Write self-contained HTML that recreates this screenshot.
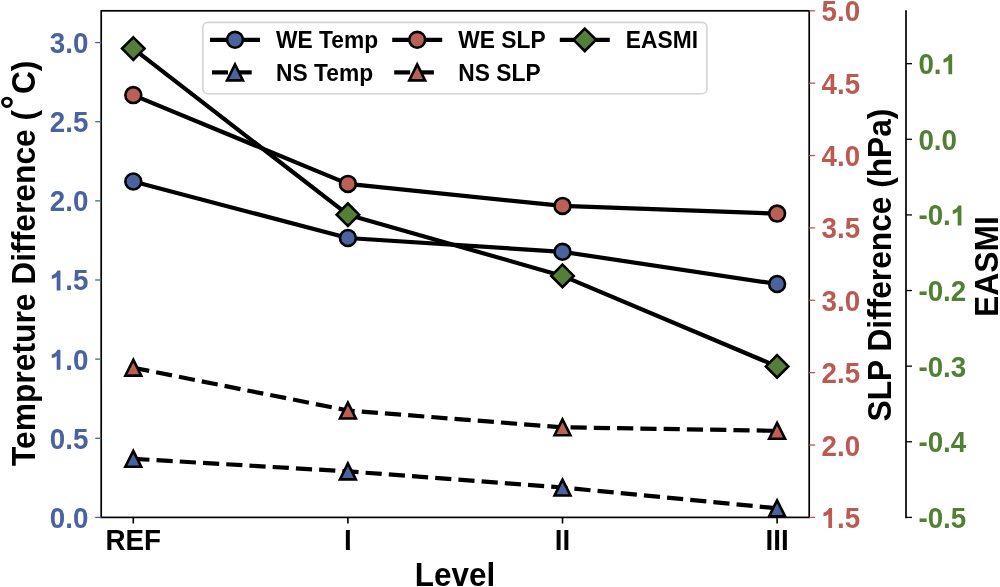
<!DOCTYPE html>
<html><head><meta charset="utf-8"><title>chart</title>
<style>
html,body{margin:0;padding:0;background:#fff;width:1000px;height:587px;overflow:hidden;}
svg{display:block;will-change:transform;}
text{font-family:"Liberation Sans", sans-serif;font-weight:bold;}
</style></head>
<body>
<svg width="1000" height="587" viewBox="0 0 1000 587">
<rect x="0" y="0" width="1000" height="587" fill="#fff"/>
<rect x="101.2" y="10.8" width="708.0" height="506.59999999999997" fill="none" stroke="#000" stroke-width="1.7"/>
<line x1="906.0" y1="10.200000000000001" x2="906.0" y2="518.25" stroke="#000" stroke-width="1.7"/>
<line x1="95.2" y1="517.40" x2="101.2" y2="517.40" stroke="#4a62a0" stroke-width="1.3"/>
<g transform="translate(88.50,527.90) scale(1.0,1.0405)" fill="#4a62a0"><text x="-38.65 -23.18 -15.46" y="0" font-size="27.8">0.0</text></g>
<line x1="95.2" y1="438.26" x2="101.2" y2="438.26" stroke="#4a62a0" stroke-width="1.3"/>
<g transform="translate(88.50,448.76) scale(1.0,1.0405)" fill="#4a62a0"><text x="-38.65 -23.18 -15.46" y="0" font-size="27.8">0.5</text></g>
<line x1="95.2" y1="359.13" x2="101.2" y2="359.13" stroke="#4a62a0" stroke-width="1.3"/>
<g transform="translate(88.50,369.63) scale(1.0,1.0405)" fill="#4a62a0"><path transform="translate(-38.65,0) scale(0.01357,-0.01305)" d="M 780 0 L 503 0 L 503 1010 Q 360 885 142 850 L 142 1110 Q 300 1150 420 1270 Q 520 1370 560 1466 L 780 1466 Z"/><text x="-23.18 -15.46" y="0" font-size="27.8">.0</text></g>
<line x1="95.2" y1="279.99" x2="101.2" y2="279.99" stroke="#4a62a0" stroke-width="1.3"/>
<g transform="translate(88.50,290.49) scale(1.0,1.0405)" fill="#4a62a0"><path transform="translate(-38.65,0) scale(0.01357,-0.01305)" d="M 780 0 L 503 0 L 503 1010 Q 360 885 142 850 L 142 1110 Q 300 1150 420 1270 Q 520 1370 560 1466 L 780 1466 Z"/><text x="-23.18 -15.46" y="0" font-size="27.8">.5</text></g>
<line x1="95.2" y1="200.86" x2="101.2" y2="200.86" stroke="#4a62a0" stroke-width="1.3"/>
<g transform="translate(88.50,211.36) scale(1.0,1.0405)" fill="#4a62a0"><text x="-38.65 -23.18 -15.46" y="0" font-size="27.8">2.0</text></g>
<line x1="95.2" y1="121.72" x2="101.2" y2="121.72" stroke="#4a62a0" stroke-width="1.3"/>
<g transform="translate(88.50,132.22) scale(1.0,1.0405)" fill="#4a62a0"><text x="-38.65 -23.18 -15.46" y="0" font-size="27.8">2.5</text></g>
<line x1="95.2" y1="42.59" x2="101.2" y2="42.59" stroke="#4a62a0" stroke-width="1.3"/>
<g transform="translate(88.50,53.09) scale(1.0,1.0405)" fill="#4a62a0"><text x="-38.65 -23.18 -15.46" y="0" font-size="27.8">3.0</text></g>
<line x1="809.2" y1="517.40" x2="815.2" y2="517.40" stroke="#bb5a52" stroke-width="1.3"/>
<g transform="translate(821.50,527.90) scale(1.0,1.0405)" fill="#bb5a52"><path transform="translate(0.00,0) scale(0.01357,-0.01305)" d="M 780 0 L 503 0 L 503 1010 Q 360 885 142 850 L 142 1110 Q 300 1150 420 1270 Q 520 1370 560 1466 L 780 1466 Z"/><text x="15.46 23.18" y="0" font-size="27.8">.5</text></g>
<line x1="809.2" y1="445.03" x2="815.2" y2="445.03" stroke="#bb5a52" stroke-width="1.3"/>
<g transform="translate(821.50,455.53) scale(1.0,1.0405)" fill="#bb5a52"><text x="0.00 15.46 23.18" y="0" font-size="27.8">2.0</text></g>
<line x1="809.2" y1="372.66" x2="815.2" y2="372.66" stroke="#bb5a52" stroke-width="1.3"/>
<g transform="translate(821.50,383.16) scale(1.0,1.0405)" fill="#bb5a52"><text x="0.00 15.46 23.18" y="0" font-size="27.8">2.5</text></g>
<line x1="809.2" y1="300.29" x2="815.2" y2="300.29" stroke="#bb5a52" stroke-width="1.3"/>
<g transform="translate(821.50,310.79) scale(1.0,1.0405)" fill="#bb5a52"><text x="0.00 15.46 23.18" y="0" font-size="27.8">3.0</text></g>
<line x1="809.2" y1="227.92" x2="815.2" y2="227.92" stroke="#bb5a52" stroke-width="1.3"/>
<g transform="translate(821.50,238.42) scale(1.0,1.0405)" fill="#bb5a52"><text x="0.00 15.46 23.18" y="0" font-size="27.8">3.5</text></g>
<line x1="809.2" y1="155.55" x2="815.2" y2="155.55" stroke="#bb5a52" stroke-width="1.3"/>
<g transform="translate(821.50,166.05) scale(1.0,1.0405)" fill="#bb5a52"><text x="0.00 15.46 23.18" y="0" font-size="27.8">4.0</text></g>
<line x1="809.2" y1="83.18" x2="815.2" y2="83.18" stroke="#bb5a52" stroke-width="1.3"/>
<g transform="translate(821.50,93.68) scale(1.0,1.0405)" fill="#bb5a52"><text x="0.00 15.46 23.18" y="0" font-size="27.8">4.5</text></g>
<line x1="809.2" y1="10.81" x2="815.2" y2="10.81" stroke="#bb5a52" stroke-width="1.3"/>
<g transform="translate(821.50,21.31) scale(1.0,1.0405)" fill="#bb5a52"><text x="0.00 15.46 23.18" y="0" font-size="27.8">5.0</text></g>
<line x1="906.0" y1="517.40" x2="912.0" y2="517.40" stroke="#000" stroke-width="1.3"/>
<g transform="translate(918.40,527.90) scale(1.0,1.0405)" fill="#517f33"><text x="0.00 9.26 24.72 32.44" y="0" font-size="27.8">-0.5</text></g>
<line x1="906.0" y1="441.78" x2="912.0" y2="441.78" stroke="#000" stroke-width="1.3"/>
<g transform="translate(918.40,452.28) scale(1.0,1.0405)" fill="#517f33"><text x="0.00 9.26 24.72 32.44" y="0" font-size="27.8">-0.4</text></g>
<line x1="906.0" y1="366.16" x2="912.0" y2="366.16" stroke="#000" stroke-width="1.3"/>
<g transform="translate(918.40,376.66) scale(1.0,1.0405)" fill="#517f33"><text x="0.00 9.26 24.72 32.44" y="0" font-size="27.8">-0.3</text></g>
<line x1="906.0" y1="290.54" x2="912.0" y2="290.54" stroke="#000" stroke-width="1.3"/>
<g transform="translate(918.40,301.04) scale(1.0,1.0405)" fill="#517f33"><text x="0.00 9.26 24.72 32.44" y="0" font-size="27.8">-0.2</text></g>
<line x1="906.0" y1="214.92" x2="912.0" y2="214.92" stroke="#000" stroke-width="1.3"/>
<g transform="translate(918.40,225.42) scale(1.0,1.0405)" fill="#517f33"><path transform="translate(32.44,0) scale(0.01357,-0.01305)" d="M 780 0 L 503 0 L 503 1010 Q 360 885 142 850 L 142 1110 Q 300 1150 420 1270 Q 520 1370 560 1466 L 780 1466 Z"/><text x="0.00 9.26 24.72" y="0" font-size="27.8">-0.</text></g>
<line x1="906.0" y1="139.30" x2="912.0" y2="139.30" stroke="#000" stroke-width="1.3"/>
<g transform="translate(918.40,149.80) scale(1.0,1.0405)" fill="#517f33"><text x="0.00 15.46 23.18" y="0" font-size="27.8">0.0</text></g>
<line x1="906.0" y1="63.68" x2="912.0" y2="63.68" stroke="#000" stroke-width="1.3"/>
<g transform="translate(918.40,74.18) scale(1.0,1.0405)" fill="#517f33"><path transform="translate(23.18,0) scale(0.01357,-0.01305)" d="M 780 0 L 503 0 L 503 1010 Q 360 885 142 850 L 142 1110 Q 300 1150 420 1270 Q 520 1370 560 1466 L 780 1466 Z"/><text x="0.00 15.46" y="0" font-size="27.8">0.</text></g>
<line x1="133.30" y1="517.4" x2="133.30" y2="523.5" stroke="#000" stroke-width="1.6"/>
<g transform="translate(133.30,550.00) scale(1.0,1.0405)"><text x="0" y="0" font-size="27.8" fill="#000" text-anchor="middle">REF</text></g>
<line x1="347.90" y1="517.4" x2="347.90" y2="523.5" stroke="#000" stroke-width="1.6"/>
<g transform="translate(347.90,550.00) scale(1.0,1.0405)"><text x="0" y="0" font-size="27.8" fill="#000" text-anchor="middle">I</text></g>
<line x1="562.50" y1="517.4" x2="562.50" y2="523.5" stroke="#000" stroke-width="1.6"/>
<g transform="translate(562.50,550.00) scale(1.0,1.0405)"><text x="0" y="0" font-size="27.8" fill="#000" text-anchor="middle">II</text></g>
<line x1="777.10" y1="517.4" x2="777.10" y2="523.5" stroke="#000" stroke-width="1.6"/>
<g transform="translate(777.10,550.00) scale(1.0,1.0405)"><text x="0" y="0" font-size="27.8" fill="#000" text-anchor="middle">III</text></g>
<g transform="translate(455.00,585.70) scale(1.0,1.03)"><text x="0" y="0" font-size="31.4" fill="#000" text-anchor="middle">Level</text></g>
<g transform="translate(35.30,466.10) rotate(-90) scale(1.0,1.02)"><text x="0" y="0" font-size="31.8" fill="#000" text-anchor="start">Tempreture Difference (</text></g>
<g transform="translate(35.30,94.10) rotate(-90) scale(1.0,1.02)"><text x="0" y="0" font-size="31.8" fill="#000" text-anchor="start">C)</text></g>
<ellipse cx="6.95" cy="102.3" rx="4.45" ry="4.15" fill="none" stroke="#000" stroke-width="2.9"/>
<g transform="translate(891.00,265.00) rotate(-90) scale(1.0,1.02)"><text x="0" y="0" font-size="31.7" fill="#000" text-anchor="middle">SLP Difference (hPa)</text></g>
<g transform="translate(998.40,266.60) rotate(-90) scale(1.0,1.02)"><text x="0" y="0" font-size="31.8" fill="#000" text-anchor="middle">EASMI</text></g>
<polyline points="133.30,181.50 347.90,238.00 562.50,251.80 777.10,284.00" fill="none" stroke="#000" stroke-width="4.2" stroke-linejoin="round" stroke-linecap="butt"/>
<circle cx="133.30" cy="181.50" r="7.95" fill="#4a629e" stroke="#000" stroke-width="2.6"/>
<circle cx="347.90" cy="238.00" r="7.95" fill="#4a629e" stroke="#000" stroke-width="2.6"/>
<circle cx="562.50" cy="251.80" r="7.95" fill="#4a629e" stroke="#000" stroke-width="2.6"/>
<circle cx="777.10" cy="284.00" r="7.95" fill="#4a629e" stroke="#000" stroke-width="2.6"/>
<polyline points="133.30,458.80 347.90,471.40 562.50,487.50 777.10,508.30" fill="none" stroke="#000" stroke-width="4.2" stroke-linejoin="round" stroke-linecap="butt" stroke-dasharray="16.2 7.07"/>
<polygon points="133.30,450.85 125.35,466.75 141.25,466.75" fill="#4a629e" stroke="#000" stroke-width="2.6" stroke-miterlimit="10"/>
<polygon points="347.90,463.45 339.95,479.35 355.85,479.35" fill="#4a629e" stroke="#000" stroke-width="2.6" stroke-miterlimit="10"/>
<polygon points="562.50,479.55 554.55,495.45 570.45,495.45" fill="#4a629e" stroke="#000" stroke-width="2.6" stroke-miterlimit="10"/>
<polygon points="777.10,500.35 769.15,516.25 785.05,516.25" fill="#4a629e" stroke="#000" stroke-width="2.6" stroke-miterlimit="10"/>
<polyline points="133.30,95.10 347.90,183.90 562.50,205.90 777.10,213.60" fill="none" stroke="#000" stroke-width="4.2" stroke-linejoin="round" stroke-linecap="butt"/>
<circle cx="133.30" cy="95.10" r="7.95" fill="#bb6056" stroke="#000" stroke-width="2.6"/>
<circle cx="347.90" cy="183.90" r="7.95" fill="#bb6056" stroke="#000" stroke-width="2.6"/>
<circle cx="562.50" cy="205.90" r="7.95" fill="#bb6056" stroke="#000" stroke-width="2.6"/>
<circle cx="777.10" cy="213.60" r="7.95" fill="#bb6056" stroke="#000" stroke-width="2.6"/>
<polyline points="133.30,367.70 347.90,410.50 562.50,427.30 777.10,430.80" fill="none" stroke="#000" stroke-width="4.2" stroke-linejoin="round" stroke-linecap="butt" stroke-dasharray="16.2 7.07"/>
<polygon points="133.30,359.75 125.35,375.65 141.25,375.65" fill="#bb6056" stroke="#000" stroke-width="2.6" stroke-miterlimit="10"/>
<polygon points="347.90,402.55 339.95,418.45 355.85,418.45" fill="#bb6056" stroke="#000" stroke-width="2.6" stroke-miterlimit="10"/>
<polygon points="562.50,419.35 554.55,435.25 570.45,435.25" fill="#bb6056" stroke="#000" stroke-width="2.6" stroke-miterlimit="10"/>
<polygon points="777.10,422.85 769.15,438.75 785.05,438.75" fill="#bb6056" stroke="#000" stroke-width="2.6" stroke-miterlimit="10"/>
<polyline points="133.30,48.60 347.90,214.70 562.50,275.90 777.10,366.40" fill="none" stroke="#000" stroke-width="4.2" stroke-linejoin="round" stroke-linecap="butt"/>
<polygon points="133.30,37.36 144.54,48.60 133.30,59.84 122.06,48.60" fill="#557f38" stroke="#000" stroke-width="2.6" stroke-miterlimit="10"/>
<polygon points="347.90,203.46 359.14,214.70 347.90,225.94 336.66,214.70" fill="#557f38" stroke="#000" stroke-width="2.6" stroke-miterlimit="10"/>
<polygon points="562.50,264.66 573.74,275.90 562.50,287.14 551.26,275.90" fill="#557f38" stroke="#000" stroke-width="2.6" stroke-miterlimit="10"/>
<polygon points="777.10,355.16 788.34,366.40 777.10,377.64 765.86,366.40" fill="#557f38" stroke="#000" stroke-width="2.6" stroke-miterlimit="10"/>
<rect x="202.9" y="22.4" width="504.0" height="71.3" rx="4.8" ry="4.8" fill="#fff" fill-opacity="0.8" stroke="#d4d4d4" stroke-width="1.6"/>
<line x1="210" y1="39.8" x2="260" y2="39.8" stroke="#000" stroke-width="4.2"/><circle cx="235.00" cy="39.80" r="7.95" fill="#4a629e" stroke="#000" stroke-width="2.6"/>
<line x1="212" y1="72.4" x2="228" y2="72.4" stroke="#000" stroke-width="4.2"/><line x1="235.2" y1="72.4" x2="251.7" y2="72.4" stroke="#000" stroke-width="4.2"/><polygon points="235.00,64.45 227.05,80.35 242.95,80.35" fill="#4a629e" stroke="#000" stroke-width="2.6" stroke-miterlimit="10"/>
<line x1="392.2" y1="39.8" x2="442.2" y2="39.8" stroke="#000" stroke-width="4.2"/><circle cx="417.20" cy="39.80" r="7.95" fill="#bb6056" stroke="#000" stroke-width="2.6"/>
<line x1="394.2" y1="72.4" x2="410.2" y2="72.4" stroke="#000" stroke-width="4.2"/><line x1="417.4" y1="72.4" x2="433.9" y2="72.4" stroke="#000" stroke-width="4.2"/><polygon points="417.20,64.45 409.25,80.35 425.15,80.35" fill="#bb6056" stroke="#000" stroke-width="2.6" stroke-miterlimit="10"/>
<line x1="559.8" y1="39.8" x2="609.8" y2="39.8" stroke="#000" stroke-width="4.2"/><polygon points="584.80,28.56 596.04,39.80 584.80,51.04 573.56,39.80" fill="#557f38" stroke="#000" stroke-width="2.6" stroke-miterlimit="10"/>
<g transform="translate(276.00,48.10) scale(1.0,1.0405)"><text x="0" y="0" font-size="22.8" fill="#000" text-anchor="start">WE Temp</text></g>
<g transform="translate(276.00,80.60) scale(1.0,1.0405)"><text x="0" y="0" font-size="22.8" fill="#000" text-anchor="start">NS Temp</text></g>
<g transform="translate(458.30,48.10) scale(1.0,1.0405)"><text x="0" y="0" font-size="22.8" fill="#000" text-anchor="start">WE SLP</text></g>
<g transform="translate(458.30,80.60) scale(1.0,1.0405)"><text x="0" y="0" font-size="22.8" fill="#000" text-anchor="start">NS SLP</text></g>
<g transform="translate(625.80,48.10) scale(1.0,1.0405)"><text x="0" y="0" font-size="22.8" fill="#000" text-anchor="start">EASMI</text></g>
</svg>
</body></html>
